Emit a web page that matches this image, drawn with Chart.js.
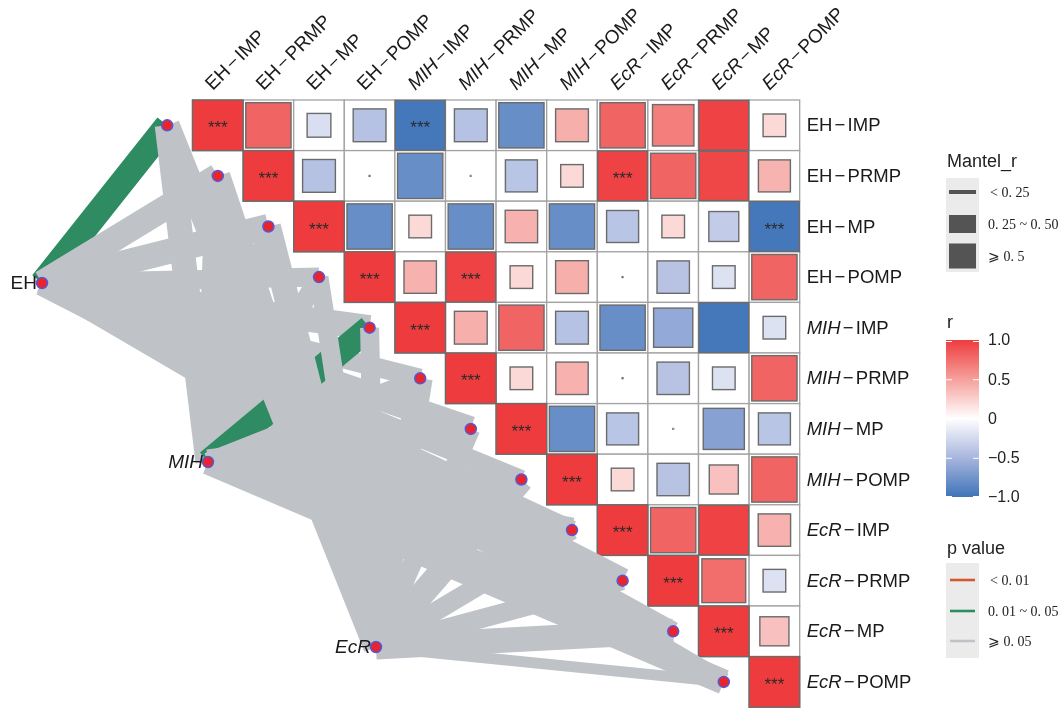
<!DOCTYPE html>
<html>
<head>
<meta charset="utf-8">
<script src="https://cdn.jsdelivr.net/npm/chart.js@4.4.1/dist/chart.umd.min.js"></script>
<style>
  html, body { margin: 0; padding: 0; background: #ffffff; }
  #wrap { width: 1064px; height: 708px; position: relative; }
</style>
</head>
<body>
<div id="wrap"><canvas id="c"></canvas></div>
<script>
// ---- variables of the correlation matrix ----
const varLabels = [
  'EH−IMP', 'EH−PRMP', 'EH−MP', 'EH−POMP',
  'MIH−IMP', 'MIH−PRMP', 'MIH−MP', 'MIH−POMP',
  'EcR−IMP', 'EcR−PRMP', 'EcR−MP', 'EcR−POMP'
];
const italicGroups = ['MIH', 'EcR'];

// Pearson r, upper triangle: row i lists columns i..11
const corrUpper = [
  [1, 0.80, -0.22, -0.42, -0.97, -0.42, -0.80, 0.42, 0.80, 0.67, 0.97, 0.20],
  [1, -0.42, 0.001, -0.80, 0.001, -0.40, 0.20, 0.97, 0.80, 0.95, 0.40],
  [1, -0.80, 0.20, -0.80, 0.41, -0.80, -0.40, 0.20, -0.35, -0.97],
  [1, 0.41, 0.97, 0.20, 0.42, 0.001, -0.41, -0.20, 0.80],
  [1, 0.42, 0.80, -0.42, -0.80, -0.60, -0.97, -0.20],
  [1, 0.20, 0.41, 0.001, -0.41, -0.20, 0.80],
  [1, -0.80, -0.40, 0.001, -0.66, -0.40],
  [1, 0.20, -0.41, 0.33, 0.80],
  [1, 0.80, 0.97, 0.41],
  [1, 0.75, -0.20],
  [1, 0.33],
  [1]
];
// off-diagonal pairs with p < 0.001 (diagonal is always ***)
const starPairs = [[0, 4], [1, 8], [2, 11], [3, 5]];

// ---- Mantel test: environment factors vs. the 12 variables ----
const envNames = ['EH', 'MIH', 'EcR'];
const mantelR_EH  = [0.55, 0.55, 0.55, 0.35, 0.55, 0.35, 0.55, 0.35, 0.35, 0.55, 0.35, 0.35];
const mantelP_EH  = [0.03, 0.41, 0.36, 0.52, 0.28, 0.47, 0.33, 0.61, 0.44, 0.39, 0.57, 0.49];
const mantelR_MIH = [0.55, 0.55, 0.35, 0.35, 0.55, 0.35, 0.55, 0.35, 0.55, 0.35, 0.35, 0.55];
const mantelP_MIH = [0.38, 0.29, 0.55, 0.46, 0.04, 0.51, 0.34, 0.62, 0.27, 0.48, 0.43, 0.58];
const mantelR_EcR = [0.55, 0.55, 0.55, 0.35, 0.35, 0.55, 0.35, 0.55, 0.35, 0.35, 0.55, 0.20];
const mantelP_EcR = [0.45, 0.53, 0.31, 0.42, 0.66, 0.37, 0.49, 0.26, 0.54, 0.40, 0.35, 0.59];

// colour bar ticks
const rTicks = [1, 0.5, 0, -0.5, -1];
const rTickLabels = ['1.0', '0.5', '0', '−0.5', '−1.0'];

// legend texts
const mantelRLegend = ['< 0. 25', '0. 25 ~ 0. 50', '⩾ 0. 5'];
const pLegend = ['< 0. 01', '0. 01 ~ 0. 05', '⩾ 0. 05'];

// ---- layout (cell units: one matrix cell = 1) ----
const CELL = 50.6, X0 = 192.5, Y0 = 100, W = 1064, H = 708;
const envAnchor = { EH: [-2.974, 3.617], MIH: [0.306, 7.154], EcR: [3.626, 10.81] };

// ---- styles ----
const SANS = '"Liberation Sans", Arial, Helvetica, sans-serif';
const SERIF = '"Liberation Serif", "DejaVu Serif", "Times New Roman", serif';
const pColours = ['#d2592d', '#2e8b62', '#bfc3c8'];
const colourStops = [
  [-1, [62, 116, 185]], [-0.5, [168, 182, 222]], [0, [255, 255, 255]],
  [0.5, [245, 160, 156]], [1, [238, 60, 62]]
];
function rColour(v) {
  v = Math.max(-1, Math.min(1, v));
  for (let k = 0; k < colourStops.length - 1; k++) {
    const [a, ca] = colourStops[k], [b, cb] = colourStops[k + 1];
    if (v >= a && v <= b) {
      const t = (v - a) / (b - a);
      const c = ca.map((q, m) => Math.round(q + (cb[m] - q) * t));
      return `rgb(${c[0]},${c[1]},${c[2]})`;
    }
  }
  return '#fff';
}
function mantelWidth(r) { return r >= 0.5 ? 25 : (r >= 0.25 ? 19 : 11); }
function pColour(p) { return p < 0.01 ? pColours[0] : (p < 0.05 ? pColours[1] : pColours[2]); }

// ---- datasets: Mantel links (drawn in data order, later on top) and nodes ----
const mantelR = { EH: mantelR_EH, MIH: mantelR_MIH, EcR: mantelR_EcR };
const mantelP = { EH: mantelP_EH, MIH: mantelP_MIH, EcR: mantelP_EcR };
const datasets = [];
let linkIndex = 0;
envNames.forEach(env => {
  const [ex, ey] = envAnchor[env];
  varLabels.forEach((v, i) => {
    const p = mantelP[env][i];
    datasets.push({
      data: [{ x: ex, y: ey }, { x: i - 0.5, y: i + 0.5 }],
      showLine: true,
      borderColor: pColour(p),
      borderWidth: mantelWidth(mantelR[env][i]),
      borderCapStyle: 'butt',
      pointRadius: 0,
      fill: false,
      order: 1000 - linkIndex++
    });
  });
});
const nodeStyle = {
  pointRadius: 5.5, pointBackgroundColor: '#e8242c', pointBorderColor: '#5858d2',
  pointBorderWidth: 1.5, showLine: false, order: 0
};
datasets.push(Object.assign({ data: varLabels.map((v, i) => ({ x: i - 0.5, y: i + 0.5 })) }, nodeStyle));
datasets.push(Object.assign({ data: envNames.map(e => ({ x: envAnchor[e][0], y: envAnchor[e][1] })) }, nodeStyle));

// ---- label drawing with italic gene prefix ----
function drawVarLabel(ctx, label, x, y, size) {
  const [g, s] = label.split('−');
  const it = italicGroups.includes(g);
  const gap = 2.2;
  ctx.font = `${it ? 'italic ' : ''}${size}px ${SANS}`;
  ctx.fillText(g, x, y);
  let w = ctx.measureText(g).width + gap;
  ctx.font = `${size}px ${SANS}`;
  ctx.fillText('−', x + w, y);
  w += ctx.measureText('−').width + gap;
  ctx.fillText(s, x + w, y);
}

const heatmapPlugin = {
  id: 'corrHeatmap',
  beforeDatasetsDraw(chart) {
    const { ctx, scales: { x, y } } = chart;
    const n = varLabels.length;
    ctx.save();
    // cells
    for (let i = 0; i < n; i++) {
      for (let j = i; j < n; j++) {
        const l = x.getPixelForValue(j), r = x.getPixelForValue(j + 1);
        const t = y.getPixelForValue(i), b = y.getPixelForValue(i + 1);
        ctx.fillStyle = '#ffffff';
        ctx.fillRect(l, t, r - l, b - t);
        ctx.strokeStyle = '#a3a3a3';
        ctx.lineWidth = 1.3;
        ctx.strokeRect(l, t, r - l, b - t);
      }
    }
    // squares
    for (let i = 0; i < n; i++) {
      for (let j = i; j < n; j++) {
        const v = corrUpper[i][j - i];
        const size = Math.sqrt(Math.abs(v));
        const cx = x.getPixelForValue(j + 0.5), cy = y.getPixelForValue(i + 0.5);
        const half = size * (x.getPixelForValue(j + 1) - x.getPixelForValue(j)) / 2;
        ctx.fillStyle = rColour(i === j ? 1 : v);
        ctx.fillRect(cx - half, cy - half, 2 * half, 2 * half);
        ctx.strokeStyle = '#6b6b6b';
        ctx.lineWidth = size > 0.1 ? 1.4 : 0.6;
        ctx.strokeRect(cx - half, cy - half, 2 * half, 2 * half);
      }
    }
    // significance stars
    const starCells = varLabels.map((v, i) => [i, i]).concat(starPairs);
    ctx.fillStyle = '#2a2a2a';
    ctx.font = `17px ${SANS}`;
    ctx.textAlign = 'center';
    ctx.textBaseline = 'alphabetic';
    starCells.forEach(([i, j]) => {
      ctx.fillText('***', x.getPixelForValue(j + 0.5), y.getPixelForValue(i + 0.5) + 8);
    });
    ctx.restore();
  },
  afterDraw(chart) {
    const { ctx, scales: { x, y } } = chart;
    const n = varLabels.length;
    ctx.save();
    ctx.fillStyle = '#1a1a1a';
    // column labels (rotated)
    ctx.textAlign = 'left';
    ctx.textBaseline = 'alphabetic';
    varLabels.forEach((lab, j) => {
      ctx.save();
      ctx.translate(x.getPixelForValue(j + 0.5) - 5, y.getPixelForValue(0) - 9);
      ctx.rotate(-Math.PI / 4);
      drawVarLabel(ctx, lab, 0, 0, 19);
      ctx.restore();
    });
    // row labels
    ctx.textBaseline = 'middle';
    varLabels.forEach((lab, i) => {
      drawVarLabel(ctx, lab, x.getPixelForValue(n) + 7, y.getPixelForValue(i + 0.5) + 1, 18.5);
    });
    // environment node labels
    ctx.textAlign = 'right';
    envNames.forEach(e => {
      const px = x.getPixelForValue(envAnchor[e][0]), py = y.getPixelForValue(envAnchor[e][1]);
      ctx.font = `${italicGroups.includes(e) ? 'italic ' : ''}19px ${SANS}`;
      ctx.fillText(e, px - 5, py + 1);
    });

    // ---- legends ----
    const lx = 946, lw = 33;
    ctx.textAlign = 'left';
    ctx.fillStyle = '#222';
    ctx.font = `18px ${SANS}`;
    ctx.textBaseline = 'alphabetic';
    ctx.fillText('Mantel_r', 947, 167);
    ctx.fillText('r', 947, 328);
    ctx.fillText('p value', 947, 554);

    // Mantel_r keys
    ctx.fillStyle = '#ebebeb';
    ctx.fillRect(lx, 178, lw, 94);
    ctx.fillStyle = '#545454';
    const keyH = [4, 18, 25], keyY = [192, 224, 256];
    keyH.forEach((h, k) => ctx.fillRect(949, keyY[k] - h / 2, 27, h));
    ctx.fillStyle = '#222';
    ctx.font = `14px ${SERIF}`;
    ctx.textBaseline = 'middle';
    mantelRLegend.forEach((t, k) => ctx.fillText(t, k === 0 ? 990 : 988, keyY[k] + 1));

    // colour bar
    const cbTop = 340, cbBot = 497;
    for (let py = cbTop; py < cbBot; py++) {
      const v = 1 - 2 * (py + 0.5 - cbTop) / (cbBot - cbTop);
      ctx.fillStyle = rColour(v);
      ctx.fillRect(lx, py, lw, 1);
    }
    ctx.strokeStyle = '#ffffff';
    ctx.lineWidth = 1;
    ctx.font = `16px ${SANS}`;
    rTicks.forEach((v, k) => {
      const py = cbTop + (1 - v) / 2 * (cbBot - cbTop);
      const yy = Math.min(cbBot - 1, Math.max(cbTop + 1, py)) + 0.5;
      ctx.beginPath();
      ctx.moveTo(lx, yy); ctx.lineTo(lx + 6, yy);
      ctx.moveTo(lx + lw - 6, yy); ctx.lineTo(lx + lw, yy);
      ctx.stroke();
      ctx.fillStyle = '#222';
      ctx.fillText(rTickLabels[k], 988, py + 1);
    });

    // p value keys
    ctx.fillStyle = '#ebebeb';
    ctx.fillRect(lx, 563, lw, 95);
    const pY = [580, 611, 641];
    ctx.lineWidth = 2.6;
    pColours.forEach((c, k) => {
      ctx.strokeStyle = c;
      ctx.beginPath();
      ctx.moveTo(950, pY[k]); ctx.lineTo(975, pY[k]);
      ctx.stroke();
    });
    ctx.fillStyle = '#222';
    ctx.font = `14px ${SERIF}`;
    pLegend.forEach((t, k) => ctx.fillText(t, k === 0 ? 990 : 988, pY[k] + 1));
    ctx.restore();
  }
};

new Chart(document.getElementById('c'), {
  type: 'scatter',
  data: { datasets },
  options: {
    responsive: true,
    maintainAspectRatio: false,
    animation: false,
    events: [],
    layout: { padding: 0, autoPadding: false },
    plugins: { legend: { display: false }, tooltip: { enabled: false } },
    scales: {
      x: { type: 'linear', display: false, min: -X0 / CELL, max: (W - X0) / CELL },
      y: { type: 'linear', display: false, reverse: true, min: -Y0 / CELL, max: (H - Y0) / CELL }
    }
  },
  plugins: [heatmapPlugin]
});
</script>
</body>
</html>
